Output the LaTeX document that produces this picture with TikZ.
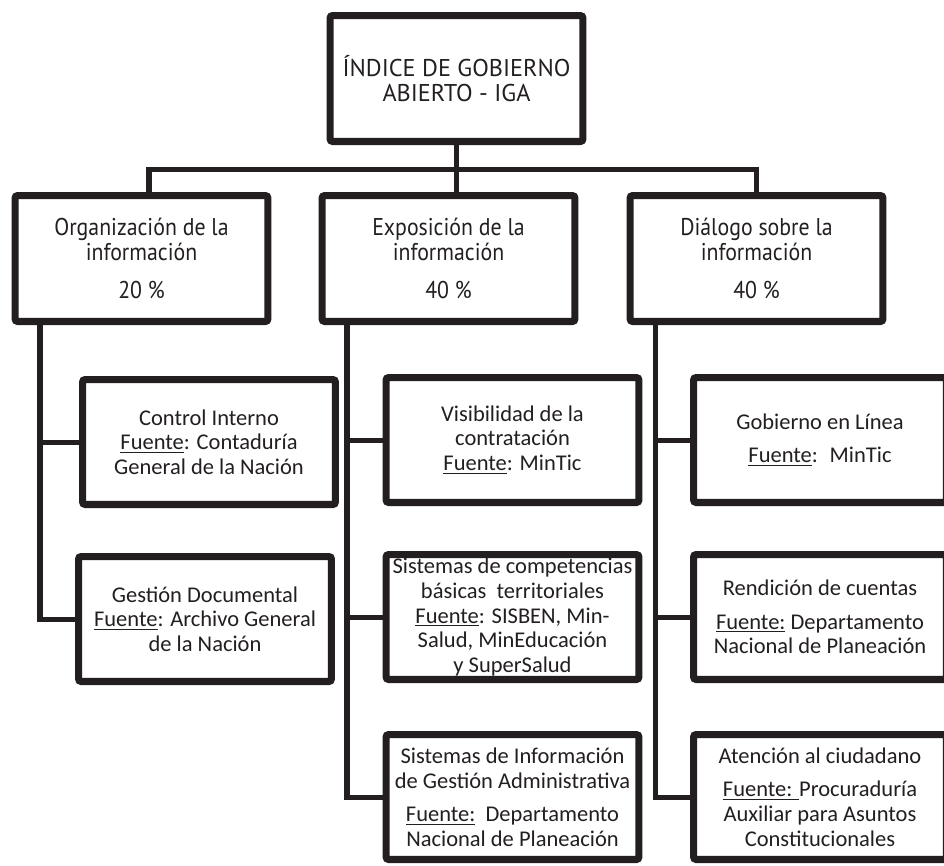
\documentclass[tikz,border=0pt]{standalone}
\usepackage{fontspec}
\setmainfont{Carlito}
\newfontfamily\myriad{PT Sans}
\newfontfamily\myriadc[FakeStretch=0.9]{PT Sans}
\usetikzlibrary{shadows}
\definecolor{ink}{RGB}{35,31,32}
\tikzset{
	caja/.style={draw=ink, line width=4pt, fill=white, rounded corners=1.5pt,
		inner sep=0pt, align=center, text=ink,
		drop shadow={shadow xshift=1pt, shadow yshift=-1.8pt, fill=black!55, opacity=.45}},
	titulo/.style={caja, minimum width=5.06cm, minimum height=2.52cm,
		font=\myriadc\fontsize{13.8}{14.2}\selectfont},
	fuente/.style={caja, minimum width=5.06cm, minimum height=2.5cm,
		font=\fontsize{12.8}{14}\selectfont},
	linea/.style={draw=ink, line width=2.85pt}
}
\newcommand{\fte}[1]{\underline{#1}}
\begin{document}
\begin{tikzpicture}[x=0.02cm, y=-0.02cm]
	\useasboundingbox (0,0) rectangle (944,866);
	% nivel 1 y 2
	\node[titulo, font=\myriad\fontsize{13.8}{14.2}\selectfont] (iga) at (456.5,78.5) {ÍNDICE DE GOBIERNO\\ABIERTO - IGA};
	\node[titulo] (org) at (141.5,258.5) {Organización de la\\información\\[7pt]20 \%};
	\node[titulo] (expo) at (448.5,258.5) {Exposición de la\\información\\[7pt]40 \%};
	\node[titulo] (dia) at (756.5,258.5) {Diálogo sobre la\\información\\[7pt]40 \%};
	% nivel 3
	\node[fuente] (ctrl) at (209,442) {Control Interno\\\fte{Fuente}: Contaduría\\General de la Nación};
	\node[fuente] (gest) at (205,619) {Gestión Documental\\\fte{Fuente}: Archivo General\\de la Nación};
	\node[fuente] (visi) at (512.5,440) {Visibilidad de la\\contratación\\\fte{Fuente}: MinTic};
	\node[fuente] (comp) at (512.5,617) {Sistemas de competencias\\básicas~ territoriales\\\fte{Fuente}: SISBEN, Min-\\Salud, MinEducación\\y SuperSalud};
	\node[fuente] (info) at (512.5,797) {Sistemas de Información\\de Gestión Administrativa\\[5pt]\fte{Fuente:}~ Departamento\\Nacional de Planeación};
	\node[fuente] (gel) at (820,440) {Gobierno en Línea\\[5pt]\fte{Fuente}:~ MinTic};
	\node[fuente] (rend) at (820,617) {Rendición de cuentas\\[5pt]\fte{Fuente:} Departamento\\Nacional de Planeación};
	\node[fuente] (aten) at (820,797) {Atención al ciudadano\\[5pt]\fte{Fuente: }Procuraduría\\Auxiliar para Asuntos\\Constitucionales};
	% conectores
	\coordinate (barA) at (149,169);
	\coordinate (barC) at (756,169);
	\coordinate (ejeA) at (40,0);
	\coordinate (ejeB) at (347,0);
	\coordinate (ejeC) at (655,0);
	\draw[linea] (iga.south) -- (iga.south |- expo.north);
	\draw[linea] (barA |- org.north) -- (barA) -- (barC) -- (barC |- dia.north);
	\draw[linea] (ejeA |- org.south) |- (gest.west);
	\draw[linea] (ejeA |- ctrl.west) -- (ctrl.west);
	\draw[linea] (ejeB |- expo.south) |- (info.west);
	\draw[linea] (ejeB |- visi.west) -- (visi.west);
	\draw[linea] (ejeB |- comp.west) -- (comp.west);
	\draw[linea] (ejeC |- dia.south) |- (aten.west);
	\draw[linea] (ejeC |- gel.west) -- (gel.west);
	\draw[linea] (ejeC |- rend.west) -- (rend.west);
\end{tikzpicture}
\end{document}
